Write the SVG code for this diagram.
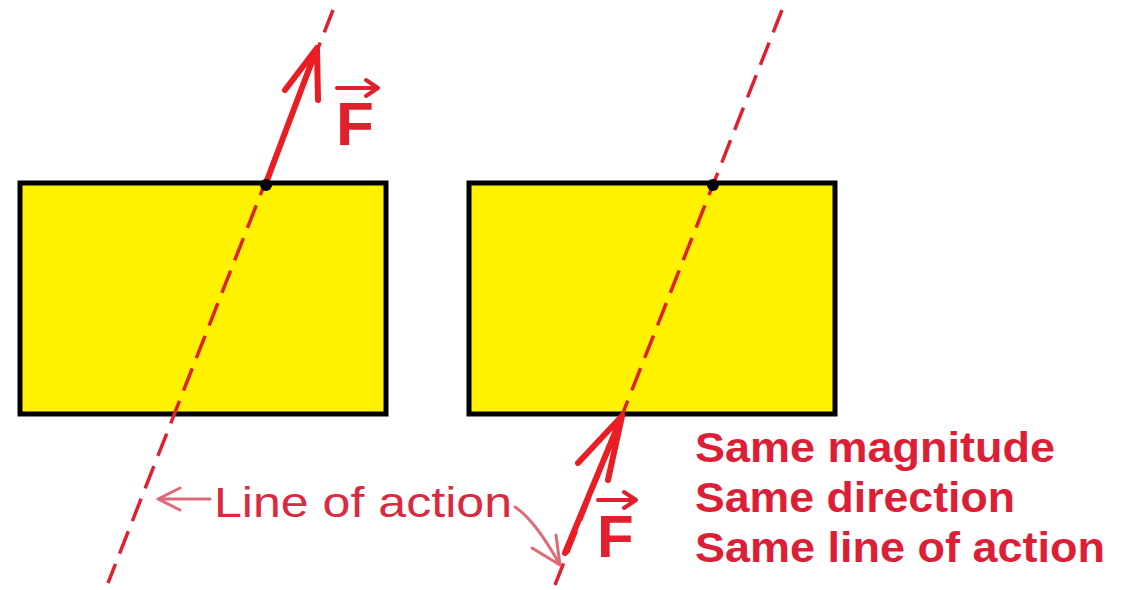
<svg xmlns="http://www.w3.org/2000/svg" width="1135" height="590" viewBox="0 0 1135 590">
<defs>
<style>
.box{fill:#fff200;stroke:#000;stroke-width:5}
.loa{stroke:#e0202e;stroke-width:3.5;stroke-dasharray:24 11;fill:none}
.force{stroke:#ea1c24;stroke-width:6;fill:none;stroke-linecap:round;stroke-linejoin:round}
.vec{stroke:#e0202e;stroke-width:4;fill:none;stroke-linecap:round;stroke-linejoin:round}
.ptr{stroke:#de6a78;stroke-width:3;fill:none;stroke-linecap:round;stroke-linejoin:round}
.F{font-family:"Liberation Sans",Arial,sans-serif;font-weight:bold;fill:#e0202e}
.lbl{font-family:"Liberation Sans",Arial,sans-serif;fill:#d82a40}
.note{font-family:"Liberation Sans",Arial,sans-serif;font-weight:bold;fill:#dc1f36;font-size:42px}
</style>
</defs>
<g id="box-left"><rect class="box" x="20" y="183" width="366" height="231"/></g>
<g id="box-right"><rect class="box" x="469" y="183" width="366" height="231"/></g>
<g id="connectors">
<line class="loa" x1="333" y1="10" x2="108" y2="583"/>
<line class="loa" x1="782" y1="10" x2="555" y2="585"/>
<path class="force" d="M266,183 L317,48 M285,90 L317,48 L318,100"/>
<path class="force" d="M565,553 L622,416 M578,463 L622,416 L608,480"/>
<path class="ptr" d="M210,499 L158,499 M180,488 L158,499 L180,510"/>
<path class="ptr" d="M515,507 Q535,520 560,565 M532,548 L560,565 L556,535"/>
</g>
<g id="dot-left"><circle cx="266" cy="185" r="6" fill="#000"/></g>
<g id="dot-right"><circle cx="713" cy="185" r="6" fill="#000"/></g>
<g id="label-F-left">
<path class="vec" d="M337,88 L378,88 M366,80 L378,88 L366,96"/>
<text class="F" x="336" y="145" font-size="62">F</text>
</g>
<g id="label-F-right">
<path class="vec" d="M598,500 L636,500 M624,492 L636,500 L624,508"/>
<text class="F" x="597" y="557" font-size="60">F</text>
</g>
<g id="label-loa">
<text class="lbl" x="214" y="517" font-size="42" textLength="298" lengthAdjust="spacingAndGlyphs">Line of action</text>
</g>
<g id="notes">
<text class="note" x="695" y="462" textLength="360" lengthAdjust="spacingAndGlyphs">Same magnitude</text>
<text class="note" x="695" y="512" textLength="320" lengthAdjust="spacingAndGlyphs">Same direction</text>
<text class="note" x="695" y="562" textLength="410" lengthAdjust="spacingAndGlyphs">Same line of action</text>
</g>
</svg>
